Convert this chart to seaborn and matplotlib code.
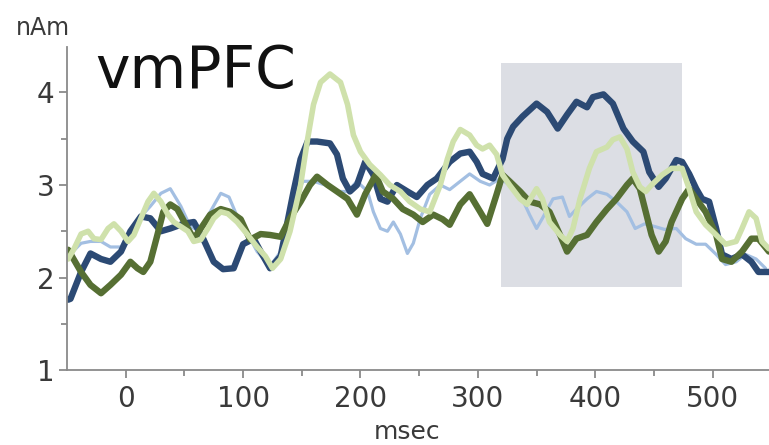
"""vmPFC source waveform, four conditions, with the analysis window shaded."""

import matplotlib
matplotlib.use('Agg')
import matplotlib.pyplot as plt
import pandas as pd
import seaborn as sns

# --- values ------------------------------------------------------------------
navy_ms = [-49, -47, -38, -30, -21, -13, -4, 4, 13, 21, 30, 38, 49, 58, 66, 75,
           83, 92, 100, 109, 115, 123, 132, 143, 149, 155, 163, 174, 180, 185,
           191, 197, 204, 211, 217, 223, 231, 240, 248, 257, 265, 276, 285, 293,
           299, 304, 313, 321, 325, 330, 338, 350, 359, 368, 376, 384, 393, 398,
           407, 415, 424, 432, 441, 446, 454, 460, 469, 474, 480, 486, 491, 497,
           503, 508, 516, 525, 533, 539, 548]
navy_nam = [1.76, 1.77, 2.06, 2.26, 2.20, 2.17, 2.28, 2.50, 2.66, 2.64, 2.50,
            2.53, 2.58, 2.60, 2.42, 2.17, 2.09, 2.10, 2.36, 2.42, 2.28, 2.10,
            2.23, 2.93, 3.28, 3.47, 3.47, 3.45, 3.33, 3.07, 2.93, 3.00, 3.25,
            3.11, 2.85, 2.82, 3.00, 2.93, 2.87, 3.00, 3.07, 3.25, 3.34, 3.36,
            3.25, 3.12, 3.07, 3.28, 3.50, 3.63, 3.74, 3.88, 3.79, 3.61, 3.76,
            3.90, 3.84, 3.95, 3.98, 3.88, 3.61, 3.47, 3.36, 3.14, 2.98, 3.07,
            3.27, 3.25, 3.12, 2.96, 2.85, 2.82, 2.53, 2.25, 2.20, 2.25, 2.17,
            2.06, 2.06]

lightblue_ms = [-49, -38, -30, -21, -13, -4, 4, 13, 21, 30, 38, 47, 55, 64, 72,
                81, 88, 95, 104, 112, 123, 132, 143, 151, 160, 170, 180, 189,
                197, 206, 211, 217, 223, 228, 234, 240, 245, 251, 259, 268, 276,
                285, 293, 302, 310, 319, 327, 336, 344, 350, 355, 364, 372, 378,
                384, 393, 401, 410, 418, 427, 434, 442, 451, 459, 469, 477, 486,
                494, 503, 511, 520, 528, 537, 545]
lightblue_nam = [2.23, 2.37, 2.39, 2.39, 2.33, 2.33, 2.50, 2.66, 2.77, 2.91,
                 2.96, 2.77, 2.55, 2.50, 2.71, 2.91, 2.87, 2.66, 2.47, 2.28,
                 2.12, 2.28, 2.82, 3.04, 3.04, 3.00, 2.93, 2.93, 3.04, 2.93,
                 2.71, 2.53, 2.50, 2.60, 2.47, 2.26, 2.37, 2.64, 2.90, 3.00,
                 2.95, 3.04, 3.12, 3.04, 3.00, 3.07, 3.00, 2.90, 2.68, 2.53,
                 2.64, 2.85, 2.87, 2.66, 2.74, 2.85, 2.93, 2.90, 2.82, 2.71,
                 2.53, 2.58, 2.55, 2.52, 2.53, 2.42, 2.36, 2.36, 2.25, 2.14,
                 2.17, 2.25, 2.20, 2.10]

olive_ms = [-49, -38, -30, -21, -13, -4, 4, 10, 15, 21, 27, 32, 38, 44, 53, 58,
            64, 72, 81, 89, 98, 106, 115, 123, 132, 140, 149, 157, 163, 172,
            180, 189, 197, 204, 213, 219, 228, 236, 245, 253, 262, 270, 276,
            285, 293, 302, 308, 316, 321, 327, 336, 344, 353, 361, 370, 376,
            384, 393, 401, 410, 418, 427, 432, 438, 443, 448, 454, 460, 465,
            474, 480, 486, 494, 503, 508, 516, 525, 533, 539, 548]
olive_nam = [2.30, 2.06, 1.92, 1.83, 1.92, 2.03, 2.17, 2.10, 2.06, 2.17, 2.46,
             2.71, 2.79, 2.74, 2.53, 2.42, 2.53, 2.68, 2.74, 2.71, 2.63, 2.41,
             2.47, 2.46, 2.44, 2.64, 2.82, 3.00, 3.09, 3.00, 2.93, 2.85, 2.68,
             2.90, 3.11, 2.93, 2.85, 2.74, 2.68, 2.60, 2.68, 2.63, 2.57, 2.79,
             2.90, 2.71, 2.58, 2.90, 3.11, 3.04, 2.93, 2.82, 2.79, 2.71, 2.46,
             2.28, 2.42, 2.46, 2.60, 2.74, 2.85, 3.00, 3.07, 2.96, 2.71, 2.46,
             2.28, 2.39, 2.60, 2.85, 2.96, 2.85, 2.71, 2.46, 2.20, 2.17, 2.28,
             2.42, 2.42, 2.28]

lightgreen_ms = [-49, -44, -38, -32, -27, -21, -15, -10, -4, 2, 7, 13, 19, 24,
                 30, 36, 41, 47, 53, 58, 64, 70, 75, 81, 87, 95, 104, 112, 119,
                 125, 132, 140, 149, 155, 160, 166, 174, 183, 189, 194, 200, 208,
                 217, 225, 234, 242, 251, 259, 268, 274, 279, 285, 293, 299, 304,
                 310, 316, 321, 327, 336, 342, 350, 355, 361, 370, 376, 381, 387,
                 395, 401, 410, 415, 421, 427, 432, 438, 443, 448, 457, 465, 474,
                 480, 486, 494, 503, 511, 520, 525, 531, 537, 542, 548]
lightgreen_nam = [2.20, 2.31, 2.47, 2.50, 2.42, 2.41, 2.53, 2.58, 2.50, 2.39,
                  2.46, 2.64, 2.82, 2.91, 2.82, 2.68, 2.60, 2.55, 2.50, 2.39,
                  2.41, 2.53, 2.64, 2.71, 2.69, 2.60, 2.46, 2.33, 2.23, 2.10,
                  2.20, 2.50, 3.00, 3.50, 3.87, 4.11, 4.20, 4.11, 3.87, 3.54,
                  3.36, 3.22, 3.11, 3.00, 2.93, 2.82, 2.74, 2.71, 3.00, 3.28,
                  3.47, 3.60, 3.54, 3.43, 3.39, 3.43, 3.33, 3.11, 3.00, 2.85,
                  2.79, 2.96, 2.85, 2.60, 2.46, 2.39, 2.53, 2.85, 3.18, 3.36,
                  3.41, 3.49, 3.52, 3.39, 3.14, 2.98, 2.93, 3.00, 3.11, 3.18,
                  3.18, 2.96, 2.71, 2.57, 2.46, 2.36, 2.39, 2.53, 2.71, 2.64,
                  2.39, 2.31]

window_ms = [320, 474]
window_nam = [1.9, 4.32]

# drawn bottom to top
series = [
    ('light blue', lightblue_ms, lightblue_nam, '#a3bfe2', 2.3),
    ('navy', navy_ms, navy_nam, '#2c4a74', 4.6),
    ('olive', olive_ms, olive_nam, '#566f33', 4.6),
    ('light green', lightgreen_ms, lightgreen_nam, '#cfe1ab', 4.0),
]

sns.set_style('ticks')
plt.rcParams['font.family'] = ['DejaVu Sans']

fig = plt.figure(figsize=(7.69, 4.45), dpi=100)
ax = fig.add_axes([0.0871, 0.1685, 0.9129, 0.7255])

ax.fill_between(window_ms, window_nam[0], window_nam[1],
                color='#dcdee4', linewidth=0, zorder=0)

for name, ms, nam, color, width in series:
  df = pd.DataFrame({'msec': ms, 'nAm': nam})
  sns.lineplot(data=df, x='msec', y='nAm', ax=ax, color=color,
               linewidth=width, sort=False, estimator=None,
               solid_joinstyle='round', solid_capstyle='round')

ax.set_xlim(-50, 548)
ax.set_ylim(1, 4.49)
ax.set_xticks([0, 100, 200, 300, 400, 500])
ax.set_xticks([50, 150, 250, 350, 450], minor=True)
ax.set_yticks([1, 2, 3, 4])
ax.set_yticks([1.5, 2.5, 3.5], minor=True)

for side in ['top', 'right']:
  ax.spines[side].set_visible(False)
for side in ['left', 'bottom']:
  ax.spines[side].set_color('#8a8a8a')
  ax.spines[side].set_linewidth(1.3)

ax.tick_params(which='major', length=6, width=1.3, color='#8a8a8a',
               labelsize=20, labelcolor='#3a3a3a')
ax.tick_params(which='minor', length=4, width=1.3, color='#8a8a8a')
ax.tick_params(axis='x', which='major', pad=5)
ax.tick_params(axis='y', which='major', pad=3)

ax.set_xlabel('msec', fontsize=18, color='#3a3a3a')
ax.xaxis.set_label_coords(0.484, -0.155)
ax.set_ylabel('')
fig.text(0.056, 0.921, 'nAm', fontsize=17, color='#3a3a3a', ha='center',
         va='baseline')

ax.text(0.04, 0.872, 'vmPFC', transform=ax.transAxes, fontsize=42,
        color='#111111', va='baseline')

fig.savefig('out.png', dpi=100)
